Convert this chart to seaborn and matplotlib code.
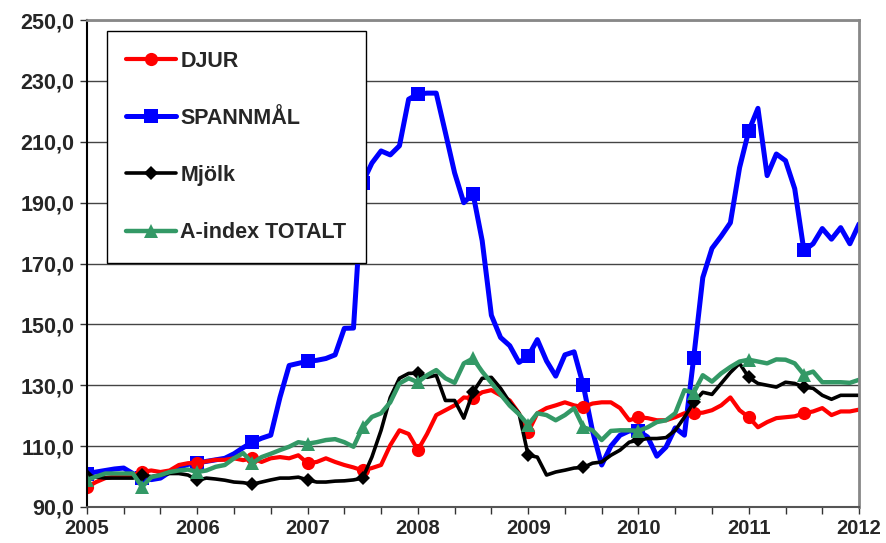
import matplotlib
matplotlib.use("Agg")
import matplotlib.pyplot as plt
import matplotlib.ticker as mticker
import seaborn as sns
import numpy as np
import pandas as pd

# monthly index values, Jan 2005 .. Jan 2012
djur = [96.6, 98.2, 99.5, 100, 100, 100.5, 101.5, 102, 101.5, 102, 103.8, 104.4,
        104.5, 105, 105.5, 105.5, 106, 105.4, 106, 104.8, 106, 106.4, 106, 107,
        104.4, 104.8, 106, 104.8, 103.8, 103, 102, 102.8, 103.8, 110.3, 115.2, 114,
        108.7, 114, 120.2, 121.8, 123.4, 126, 125.7, 127.7, 128.4, 126.7, 125, 120.8,
        114.6, 120.8, 122.5, 123.4, 124.4, 123.4, 122.8, 124, 124.4, 124.4, 122.5, 118.5,
        119.5, 119.2, 118.5, 118.5, 119.5, 120.8, 120.8, 121, 121.8, 123.4, 126, 121.8,
        119.5, 116.2, 117.9, 119.2, 119.5, 119.8, 120.8, 121.4, 122.5, 120.2, 121.4, 121.4,
        122]
spannmal = [101, 101.5, 102, 102.5, 102.8, 101, 99.5, 99, 99.5, 101.5, 103, 104,
            104.5, 105, 105.5, 106, 107.5, 109.5, 111.3, 112.6, 113.6, 126, 136.5, 137.2,
            137.9, 138.2, 138.8, 140, 148.7, 148.8, 196.6, 203, 207, 205.7, 208.7, 224,
            225.7, 226, 226, 213, 199.8, 190, 193, 177.5, 153, 145.7, 143, 137.5,
            139.5, 145, 138, 133, 140, 141, 130, 115, 103.8, 110, 113.6, 115,
            115, 113, 106.7, 109.7, 116, 113.6, 138.8, 165.4, 175, 179, 183.4, 201.5,
            213.6, 221, 198.9, 206, 203.8, 194.6, 174.3, 176.5, 181.5, 178, 181.8, 176.5,
            183]
mjolk = [100.3, 99.8, 99.5, 99.5, 99.5, 99.5, 100.5, 100, 100.5, 101, 101, 100.5,
         98.8, 99.5, 99.2, 98.8, 98.2, 98, 97.5, 98.2, 98.9, 99.5, 99.5, 99.8,
         98.9, 98.2, 98.2, 98.5, 98.6, 98.9, 99.5, 106.4, 115.2, 126, 132.3, 133.9,
         134, 132.6, 133.3, 125, 125, 119.2, 127.7, 132.3, 132.6, 129, 124.4, 120.8,
         107, 106.4, 100.5, 101.5, 102.1, 102.8, 103, 104.4, 104.8, 107, 108.7, 111.3,
         112, 112.5, 112.5, 112.8, 115.2, 119.5, 124.4, 127.7, 127, 130.6, 134.2, 137.2,
         132.6, 130.6, 130, 129.4, 131, 130.6, 129.4, 129, 126.7, 125.4, 126.7, 126.7,
         126.7]
aindex = [98.9, 100, 101, 101, 101, 101, 96.6, 99.8, 100.5, 101.5, 102, 102.3,
          101.5, 102, 103.2, 103.8, 106, 107.7, 104.4, 106.4, 107.5, 108.7, 109.8, 111.3,
          110.8, 111.3, 112, 112.3, 111.3, 109.8, 116.2, 119.6, 120.8, 124.4, 130.6, 132.3,
          131, 133.3, 135, 132.3, 130.8, 137.2, 138.8, 134.5, 130.8, 127, 123.3, 120.5,
          117, 120.8, 120.2, 118.5, 120.2, 122.5, 116.2, 115.2, 112, 115, 115.2, 115.2,
          115, 116.2, 117.9, 118.5, 120.8, 128.4, 127.5, 133.3, 131.2, 133.9, 136, 137.8,
          138.4, 137.8, 137.2, 138.5, 138.4, 137.2, 133.5, 134.5, 131, 131, 131, 130.8,
          131.8]
year_labels = ["2005", "2006", "2007", "2008", "2009", "2010", "2011", "2012"]
y_ticks = [90, 110, 130, 150, 170, 190, 210, 230, 250]

df = pd.DataFrame({
    "t": 2005 + np.arange(len(djur)) / 12,
    "DJUR": djur,
    "SPANNMÅL": spannmal,
    "Mjölk": mjolk,
    "A-index TOTALT": aindex,
})

sns.set_style("white")
plt.rcParams["font.family"] = ["Liberation Sans", "DejaVu Sans"]
plt.rcParams["font.weight"] = "bold"

fig, ax = plt.subplots(figsize=(8.87, 5.43), dpi=100)
fig.subplots_adjust(left=0.098, right=0.9685, top=0.963, bottom=0.0663)

marks = list(range(0, 84, 6))
styles = {
    "SPANNMÅL": dict(color="#0000FF", marker="s", markersize=10, linewidth=3.6),
    "DJUR": dict(color="#FF0000", marker="o", markersize=9.5, linewidth=3.0),
    "Mjölk": dict(color="black", marker="D", markersize=7, linewidth=2.6),
    "A-index TOTALT": dict(color="#339966", marker="^", markersize=10, linewidth=3.2),
}
for name in ["SPANNMÅL", "DJUR", "Mjölk", "A-index TOTALT"]:
    sns.lineplot(data=df, x="t", y=name, ax=ax, label=name, markevery=marks,
                 markeredgewidth=0, **styles[name])

ax.set_xlim(2005, 2012)
ax.set_ylim(90, 250)
ax.set_xlabel("")
ax.set_ylabel("")

ax.set_yticks(y_ticks)
ax.yaxis.set_major_formatter(mticker.FuncFormatter(lambda v, p: f"{v:.1f}".replace(".", ",")))
ax.set_xticks(range(2005, 2013))
ax.set_xticklabels(year_labels)
ax.xaxis.set_minor_locator(mticker.MultipleLocator(1 / 3))
ax.tick_params(axis="both", which="both", direction="out", length=5, width=1,
               pad=4, bottom=True, left=True, color="#333333")
ax.tick_params(axis="x", labelsize=14.5)
ax.tick_params(axis="y", labelsize=15.5)
ax.grid(axis="y", color="#444444", linewidth=1)
for lab in ax.get_xticklabels() + ax.get_yticklabels():
    lab.set_fontweight("bold")

ax.spines["left"].set_color("black")
ax.spines["left"].set_linewidth(1.5)
ax.spines["bottom"].set_color("#555555")
ax.spines["bottom"].set_linewidth(1.5)
for s in ["top", "right"]:
    ax.spines[s].set_color("#888888")
    ax.spines[s].set_linewidth(2)

handles, labels = ax.get_legend_handles_labels()
order = [labels.index(n) for n in ["DJUR", "SPANNMÅL", "Mjölk", "A-index TOTALT"]]
leg = ax.legend([handles[i] for i in order], [labels[i] for i in order],
                loc="upper left", bbox_to_anchor=(0.026, 0.977),
                prop={"size": 15.5, "weight": "bold"}, labelspacing=1.68,
                handlelength=2.3, handletextpad=0.2, borderpad=0.9,
                borderaxespad=0, fancybox=False, framealpha=1, edgecolor="black")
leg.get_frame().set_linewidth(1)

fig.savefig("out.png", dpi=100)
